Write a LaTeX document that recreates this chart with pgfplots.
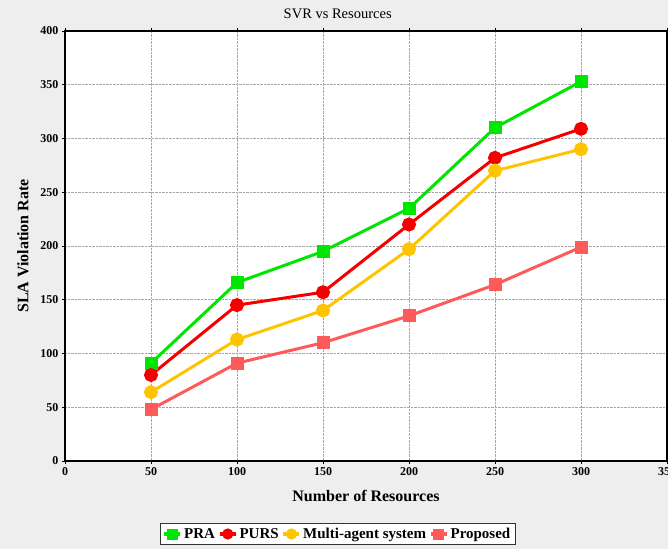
\documentclass[border=0pt]{standalone}
\usepackage{pgfplots}
\pgfplotsset{compat=1.18}
\usepackage{fontspec}
\setmainfont{Liberation Serif}
\definecolor{bgg}{RGB}{238,238,238}
\definecolor{cpra}{RGB}{0,230,0}
\definecolor{cpurs}{RGB}{245,0,0}
\definecolor{cmas}{RGB}{255,196,0}
\definecolor{cprop}{RGB}{255,90,90}
\begin{document}
\begin{tikzpicture}[x=1pt,y=1pt]
\fill[bgg] (0,0) rectangle (668,549);
\path[use as bounding box] (0,0) rectangle (668,549);
\begin{axis}[
  at={(65pt,88pt)}, anchor=south west,
  scale only axis, width=602pt, height=430pt,
  xmin=0, xmax=350, ymin=0, ymax=400,
  xtick={0,50,...,350}, ytick={0,50,...,400},
  axis background/.style={fill=white},
  axis line style={line width=1.6pt, black},
  tick style={black, line width=0.8pt},
  tick align=outside, major tick length=3pt,
  grid=major,
  grid style={densely dotted, gray!70, line width=0.7pt},
  /pgf/number format/assume math mode=true,
  ticklabel style={font=\fontsize{12}{12}\selectfont\bfseries},
  title={SVR vs Resources},
  title style={font=\fontsize{14.5}{14.5}\selectfont, at={(0.453,1)}, anchor=south, yshift=3pt},
  xlabel={Number of Resources},
  ylabel={SLA Violation Rate},
  label style={font=\fontsize{16}{16}\selectfont\bfseries},
  xlabel style={yshift=-8pt},
  ylabel style={yshift=5pt},
  legend columns=4,
  legend style={at={(272.5pt,-73pt)}, anchor=center, draw=black!80, line width=0.6pt, fill=white,
    font=\fontsize{15}{15}\selectfont\bfseries, inner sep=2.5pt,
    /tikz/every even column/.append style={column sep=1pt}},
  legend image code/.code={\draw[#1, line width=3.5pt] (0pt,0pt) -- (16pt,0pt); \path[#1, mark size=4pt] plot coordinates {(8pt,0pt)};},
]
\addplot[cpra, line width=3pt, mark=square*, mark size=5pt, mark options={solid}] coordinates {(50,91) (100,166) (150,195) (200,235) (250,310) (300,353)};
\addlegendentry{PRA}
\addplot[cpurs, line width=3pt, mark=*, mark size=5.5pt] coordinates {(50,80) (100,145) (150,157) (200,220) (250,282) (300,309)};
\addlegendentry{PURS}
\addplot[cmas, line width=3pt, mark=*, mark size=5.5pt] coordinates {(50,64) (100,113) (150,140) (200,197) (250,270) (300,290)};
\addlegendentry{Multi-agent system}
\addplot[cprop, line width=3pt, mark=square*, mark size=5pt] coordinates {(50,48) (100,91) (150,110) (200,135) (250,164) (300,199)};
\addlegendentry{Proposed}
\end{axis}
\end{tikzpicture}
\end{document}
